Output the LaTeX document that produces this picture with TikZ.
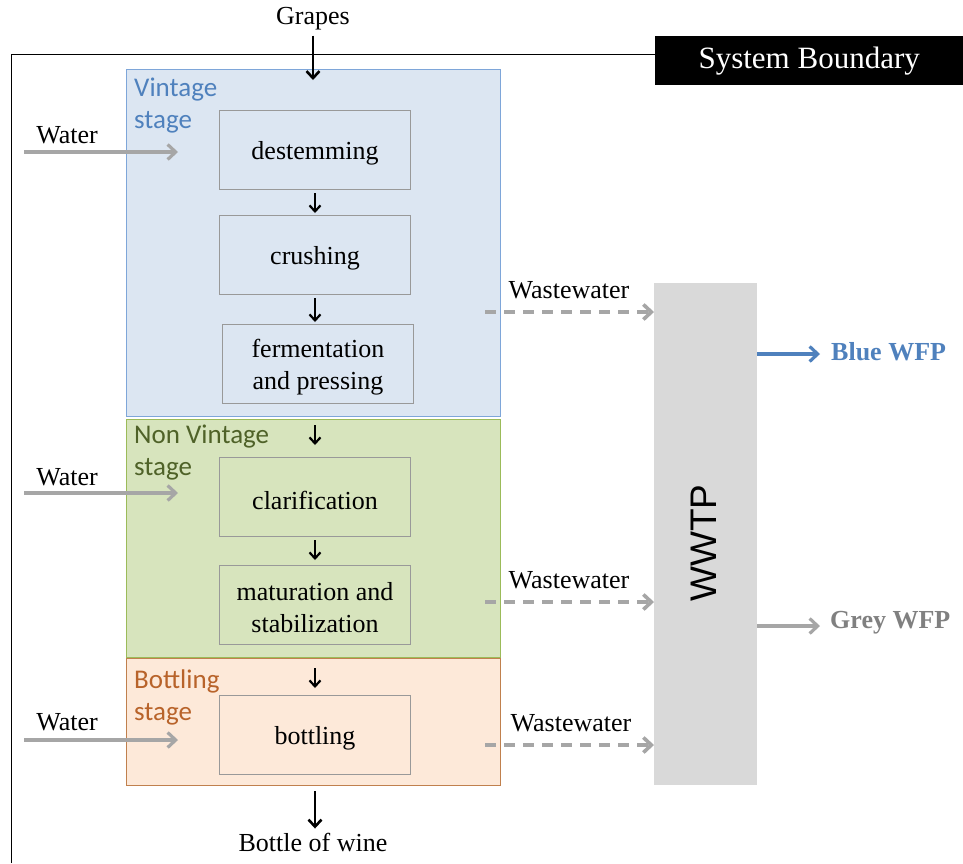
\documentclass[tikz,border=0pt]{standalone}
\usepackage{fontspec}
\setmainfont{Liberation Serif}
\newfontfamily\calibri{Carlito}
\newfontfamily\arialfont{Liberation Sans}
\usetikzlibrary{arrows.meta}

\definecolor{vinfill}{HTML}{DCE6F2}
\definecolor{vinedge}{HTML}{7EA6D9}
\definecolor{vintext}{HTML}{4F81BD}
\definecolor{nvfill}{HTML}{D7E4BD}
\definecolor{nvedge}{HTML}{9BBB59}
\definecolor{nvtext}{HTML}{4F6228}
\definecolor{btfill}{HTML}{FDE9D9}
\definecolor{btedge}{HTML}{C0804D}
\definecolor{bttext}{HTML}{B8632A}
\definecolor{flowgrey}{HTML}{A6A6A6}
\definecolor{wwtpfill}{HTML}{D9D9D9}
\definecolor{greytext}{HTML}{808080}

\tikzset{
  stagebox/.style={draw, line width=1pt, minimum width=374pt, anchor=north west, inner sep=0pt},
  stagelabel/.style={font=\calibri\fontsize{27}{32}\selectfont, align=left, anchor=north west, inner sep=0pt},
  procbox/.style={draw=gray!80, line width=1pt, minimum width=191pt, minimum height=79pt,
    inner sep=0pt, anchor=north west},
  proctext/.style={align=center, inner sep=0pt, font=\fontsize{26}{32}\selectfont, yshift=-3pt},
  plain/.style={font=\fontsize{26}{30}\selectfont, inner sep=0pt},
  flow/.style={-{Straight Barb[length=6pt,width=11pt]}, line width=2.2pt, black},
  bigflow/.style={-{Straight Barb[length=7pt,width=13pt]}, line width=2.6pt, black},
  waterflow/.style={-{Straight Barb[length=8pt,width=15pt]}, line width=3.2pt, flowgrey},
  wasteflow/.style={-{Straight Barb[length=8pt,width=15pt]}, line width=3.6pt, flowgrey,
    dash pattern=on 11pt off 8pt},
}

\begin{document}
\begin{tikzpicture}[x=1pt,y=-1pt]
\useasboundingbox (0,0) rectangle (963,863);

% system boundary
\draw[line width=1pt] (11,863) -- (11,54) -- (655,54);
\node[fill=black, minimum width=308pt, minimum height=49pt, anchor=north west, inner sep=0pt,
      text=white, font=\fontsize{31}{34}\selectfont] (sysb) at (655,36) {System Boundary};

% stages
\node[stagebox, fill=vinfill, draw=vinedge, minimum height=347pt] (vintage) at (126,69) {};
\node[stagebox, fill=nvfill, draw=nvedge, minimum height=238pt] (nonvintage) at (126,419) {};
\node[stagebox, fill=btfill, draw=btedge, minimum height=127pt] (bottlingstage) at (126,658) {};

\node[stagelabel, text=vintext] (vinlab) at (134,78) {Vintage\\stage};
\node[stagelabel, text=nvtext] (nvlab) at (134,425) {Non Vintage\\stage};
\node[stagelabel, text=bttext] (btlab) at (134,670) {Bottling\\stage};

% process steps
\node[procbox] (destem) at (219,110) {};
\node[procbox] (crush) at (219,215) {};
\node[procbox] (ferm) at (222,324) {};
\node[procbox] (clar) at (219,457) {};
\node[procbox] (matur) at (219,565) {};
\node[procbox] (bottling) at (219,695) {};
\node[proctext] (destemtxt) at (destem.center) {destemming};
\node[proctext] (crushtxt) at (crush.center) {crushing};
\node[proctext] (fermtxt) at (ferm.center) {fermentation\\and pressing};
\node[proctext] (clartxt) at (clar.center) {clarification};
\node[proctext] (maturtxt) at (matur.center) {maturation and\\stabilization};
\node[proctext] (bottlingtxt) at (bottling.center) {bottling};

% inputs and outputs
\node[plain] (grapes) at (313,19) {Grapes};
\node[plain] (bottle) at (313,842) {Bottle of wine};
\coordinate (axis) at (315,0);

\draw[bigflow, shorten >=30pt, shorten <=5pt] (grapes) -- (grapes |- destem.north);
\draw[flow, shorten <=3pt, shorten >=2pt] (destem.south -| axis) -- (crush.north -| axis);
\draw[flow, shorten <=3pt, shorten >=2pt] (crush.south -| axis) -- (ferm.north -| axis);
\draw[flow, shorten <=21pt, shorten >=12pt] (ferm.south -| axis) -- (clar.north -| axis);
\draw[flow, shorten <=3pt, shorten >=5pt] (clar.south -| axis) -- (matur.north -| axis);
\draw[flow, shorten <=23pt, shorten >=7pt] (matur.south -| axis) -- (bottling.north -| axis);
\draw[bigflow, shorten <=16pt, shorten >=4pt] (bottling.south -| axis) -- (bottle.north -| axis);

% water inputs
\node[plain] (water1) at (67,135) {Water};
\node[plain] (water2) at (67,477) {Water};
\node[plain] (water3) at (67,722) {Water};
\coordinate (w1s) at (24,152); \coordinate (w1e) at (178,152);
\coordinate (w2s) at (24,493); \coordinate (w2e) at (178,493);
\coordinate (w3s) at (24,740); \coordinate (w3e) at (178,740);
\draw[waterflow] (w1s) -- (w1e);
\draw[waterflow] (w2s) -- (w2e);
\draw[waterflow] (w3s) -- (w3e);

% treatment plant
\node[fill=wwtpfill, minimum width=103pt, minimum height=502pt, anchor=north west, inner sep=0pt] (wwtp) at (654,283) {};
\node[rotate=90, font=\arialfont\fontsize{37}{40}\selectfont, inner sep=0pt] (wwtplab) at (704,543) {WWTP};

% wastewater streams
\coordinate (ww1) at (485,312);
\coordinate (ww2) at (485,602);
\coordinate (ww3) at (485,745);
\node[plain] (wwlab1) at (569,290) {Wastewater};
\node[plain] (wwlab2) at (569,580) {Wastewater};
\node[plain] (wwlab3) at (571,723) {Wastewater};
\draw[wasteflow] (ww1) -- (wwtp.west |- ww1);
\draw[wasteflow] (ww2) -- (wwtp.west |- ww2);
\draw[wasteflow] (ww3) -- (wwtp.west |- ww3);

% footprints
\coordinate (blueend) at (820,354);
\coordinate (greyend) at (820,626);
\node[font=\bfseries\fontsize{26}{30}\selectfont, text=vintext, anchor=west, inner sep=0pt] (bluewfp) at (831,352) {Blue WFP};
\node[font=\bfseries\fontsize{26}{30}\selectfont, text=greytext, anchor=west, inner sep=0pt] (greywfp) at (830,623) {Grey WFP};
\draw[waterflow, vintext] (wwtp.east |- blueend) -- (blueend);
\draw[waterflow] (wwtp.east |- greyend) -- (greyend);
\end{tikzpicture}
\end{document}
